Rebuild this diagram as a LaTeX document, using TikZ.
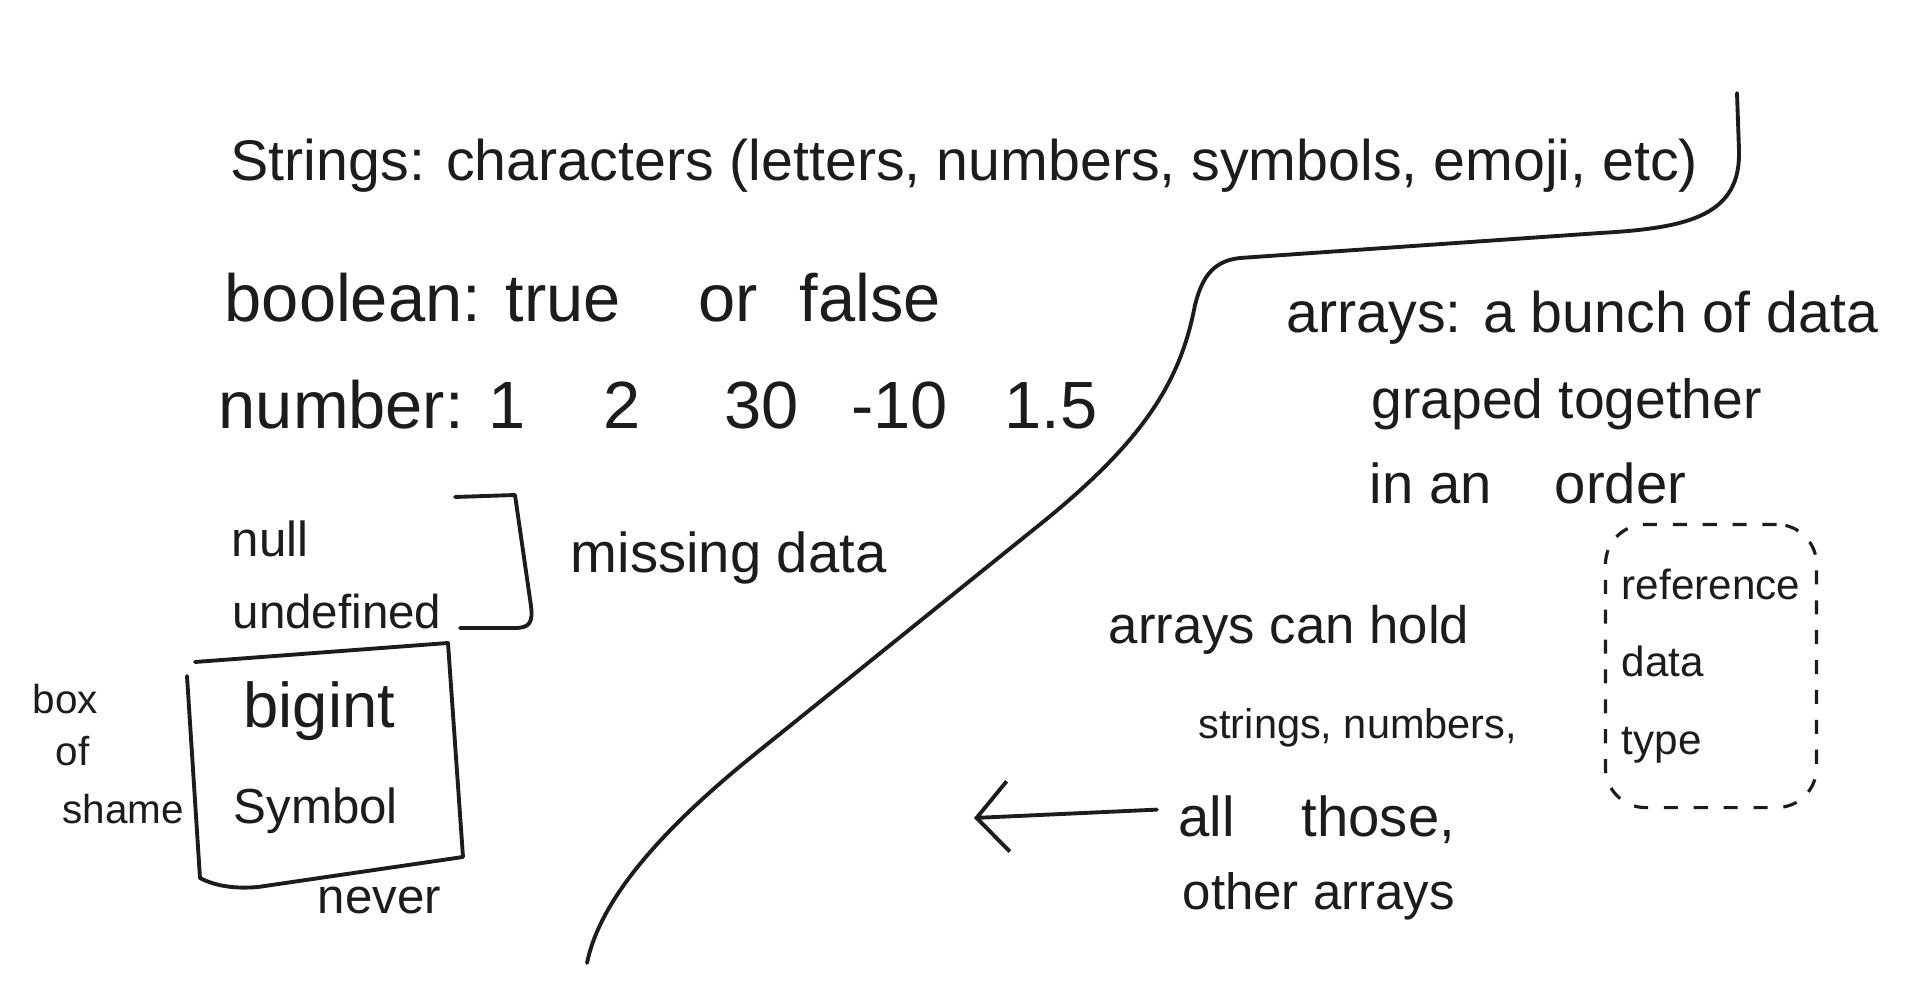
\documentclass[tikz,border=0pt]{standalone}
\usepackage{fontspec}
\setmainfont{Liberation Sans}
\usetikzlibrary{arrows.meta, positioning}
\definecolor{skInk}{HTML}{1C1C1C}
\definecolor{skPaper}{HTML}{FFFFFF}
\newcommand{\skSize}[1]{\fontsize{#1}{#1}\selectfont}
\tikzset{
  skText/.style={anchor=base west, inner sep=0pt, text=skInk},
  skPen/.style={draw=skInk, line width=1.1pt, line cap=round, line join=round},
  skArrow/.style={-{Straight Barb[length=9pt, width=20pt]}, draw=skInk,
    line width=1.1pt, line cap=round},
  skDashBox/.style={rectangle, rounded corners=4mm, draw=skInk, line width=0.9pt,
    dash pattern=on 4pt off 4.5pt, minimum width=21.1mm, minimum height=28.3mm,
    align=left, inner sep=0pt, text=skInk, font=\fontsize{12}{22}\selectfont}
}

\begin{document}
\begin{tikzpicture}[x=0.01cm, y=-0.01cm]
  \useasboundingbox (0,0) rectangle (1920,997);
  \fill[skPaper] (0,0) rectangle (1920,997);

  % left column: primitive types
  \node[skText, font=\skSize{16.3}] (strs) at (230,181) {Strings: characters (letters, numbers, symbols, emoji, etc)};
  \node[skText, font=\skSize{19}] (bool) at (224,321) {boolean: true\hspace{22pt}or\hspace{12pt}false};
  \node[skText, font=\skSize{19}] (num) at (218,429) {number: 1\hspace{22pt}2\hspace{24pt}30\hspace{15pt}-10\hspace{16pt}1.5};
  \node[skText, font=\skSize{14}] (null) at (231,556) {null};
  \node[skText, font=\skSize{13.5}] (undef) at (232,628) {undefined};
  \node[skText, font=\skSize{16}] (missing) at (570,573) {missing data};
  \draw[skPen] (455,497) -- (515,495) -- (531,606)
    .. controls (533,622) and (530,628) .. (515,628) -- (460,628);

  % box of shame
  \node[skText, font=\skSize{18}] (bigint) at (243,727) {bigint};
  \node[skText, font=\skSize{14}] (symb) at (233,823) {Symbol};
  \draw[skPen] (187,676) -- (200,878) .. controls (215,886) and (235,889) .. (258,887)
    -- (463,857) -- (448,643) -- (195,662);
  \node[skText, font=\skSize{11.5}] (shame1) at (32,713) {box};
  \node[skText, font=\skSize{11.5}] (shame2) at (55,765) {of};
  \node[skText, font=\skSize{11.5}] (shame3) at (62,823) {shame};
  \node[skText, font=\skSize{14}] (never) at (317,913) {never};

  % divider
  \draw[skPen] (1737,93) -- (1739,150) .. controls (1741,215) and (1690,228) .. (1600,233)
    -- (1240,258) .. controls (1210,261) and (1201,282) .. (1195,305)
    .. controls (1180,385) and (1140,445) .. (1033,530) -- (760,750)
    .. controls (660,830) and (600,900) .. (587,963);

  % right column: arrays
  \node[skText, font=\skSize{16.3}] (arr1) at (1286,333) {arrays: a bunch of data};
  \node[skText, font=\skSize{15.7}] (arr2) at (1371,419) {graped together};
  \node[skText, font=\skSize{16}] (arr3) at (1369,504) {in an\hspace{18pt}order};
  \node[skDashBox] (refbox) at (1711,666) {reference\\data\\type};

  \node[skText, font=\skSize{15}] (hold1) at (1108,643) {arrays can hold};
  \node[skText, font=\skSize{11.8}] (hold2) at (1198,738) {strings, numbers,};
  \node[skText, font=\skSize{16}] (hold3) at (1178,836) {all\hspace{19pt}those,};
  \node[skText, font=\skSize{14.5}] (hold4) at (1182,909) {other arrays};
  \coordinate (arrtip) at (974,818);
  \draw[skArrow, shorten <=6pt] ([yshift=3pt]hold3.west) -- (arrtip);
\end{tikzpicture}
\end{document}
